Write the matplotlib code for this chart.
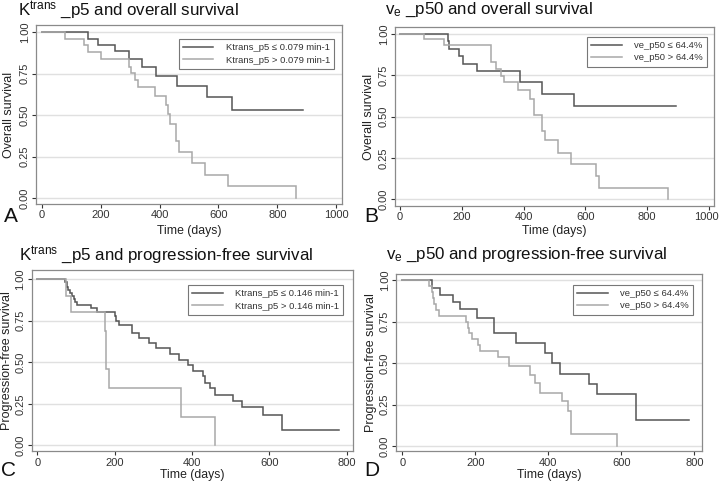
import matplotlib
matplotlib.use('Agg')
import matplotlib.pyplot as plt
import matplotlib.transforms as mtransforms

plt.rcParams['font.family'] = ['Liberation Sans', 'DejaVu Sans']
plt.rcParams['mathtext.fontset'] = 'custom'
plt.rcParams['mathtext.rm'] = 'Liberation Sans'
plt.rcParams['mathtext.it'] = 'Liberation Sans:italic'

# ---------------- data ----------------
# Panel A: Ktrans_p5 and overall survival
a_low_t = [156, 190, 247, 295, 340, 389, 460, 562, 645]
a_low_s = [0.962, 0.923, 0.885, 0.838, 0.788, 0.736, 0.675, 0.609, 0.531]
a_low_end = 889
a_high_t = [79, 142, 156, 202, 295, 302, 315, 326, 383, 423, 430, 436, 457, 466, 511, 554, 632, 864]
a_high_s = [0.962, 0.926, 0.882, 0.836, 0.792, 0.755, 0.715, 0.669, 0.615, 0.559, 0.505, 0.449, 0.345, 0.279, 0.214, 0.140, 0.070, 0.0]
a_labels = ["Ktrans_p5 \u2264 0.079 min-1", "Ktrans_p5 > 0.079 min-1"]

# Panel B: ve_p50 and overall survival
b_low_t = [156, 158, 190, 203, 248, 388, 461, 564]
b_low_s = [0.955, 0.909, 0.864, 0.818, 0.773, 0.709, 0.637, 0.566]
b_low_end = 892
b_high_t = [79, 143, 294, 311, 327, 338, 381, 421, 433, 458, 470, 512, 553, 633, 644, 866]
b_high_s = [0.967, 0.933, 0.827, 0.787, 0.747, 0.709, 0.663, 0.608, 0.508, 0.410, 0.355, 0.280, 0.215, 0.140, 0.066, 0.0]
b_labels = ["ve_p50 \u2264 64.4%", "ve_p50 > 64.4%"]

# Panel C: Ktrans_p5 and progression-free survival
c_low_t = [72, 77, 79, 85, 90, 94, 98, 103, 140, 154, 200, 204, 212, 245, 264, 290, 307, 344, 366,
           389, 403, 429, 435, 447, 461, 507, 530, 584, 634]
c_low_s = [0.982, 0.956, 0.936, 0.916, 0.902, 0.882, 0.866, 0.846, 0.826, 0.800, 0.776, 0.750, 0.725,
           0.675, 0.649, 0.615, 0.585, 0.550, 0.515, 0.485, 0.445, 0.415, 0.375, 0.345, 0.305, 0.269,
           0.230, 0.184, 0.094]
c_low_end = 780
c_high_t = [75, 87, 174, 178, 185, 372, 461]
c_high_s = [0.9, 0.8, 0.686, 0.457, 0.343, 0.171, 0.0]
c_labels = ["Ktrans_p5 \u2264 0.146 min-1", "Ktrans_p5 > 0.146 min-1"]

# Panel D: ve_p50 and progression-free survival
d_low_t = [80, 102, 139, 157, 204, 250, 311, 391, 409, 432, 512, 534, 639]
d_low_s = [0.956, 0.913, 0.869, 0.825, 0.775, 0.680, 0.624, 0.559, 0.499, 0.433, 0.372, 0.312, 0.157]
d_low_end = 785
d_high_t = [72, 80, 84, 88, 93, 100, 175, 180, 184, 190, 207, 214, 261, 291, 349, 364, 376, 437, 455, 461, 589]
d_high_s = [0.964, 0.929, 0.893, 0.857, 0.821, 0.786, 0.750, 0.714, 0.679, 0.643, 0.607, 0.571,
            0.537, 0.483, 0.427, 0.378, 0.322, 0.270, 0.210, 0.070, 0.0]
d_labels = ["ve_p50 \u2264 64.4%", "ve_p50 > 64.4%"]

titles = [r"K$^{\mathrm{trans}}$ _p5 and overall survival",
          r"v$_{\mathrm{e}}$ _p50 and overall survival",
          r"K$^{\mathrm{trans}}$ _p5 and progression-free survival",
          r"v$_{\mathrm{e}}$ _p50 and progression-free survival"]
letters = ["A", "B", "C", "D"]
ylabels = ["Overall survival", "Overall survival", "Progression-free survival", "Progression-free survival"]
xticks_os = [0, 200, 400, 600, 800, 1000]
xticks_pfs = [0, 200, 400, 600, 800]
yticks = [0.0, 0.25, 0.5, 0.75, 1.0]

# ---------------- figure ----------------
W, H = 720, 484
fig = plt.figure(figsize=(7.2, 4.84), dpi=100)

def px_axes(x0, y0, x1, y1):
    return fig.add_axes([x0 / W, 1 - y1 / H, (x1 - x0) / W, (y1 - y0) / H])

DARK = '#555555'
LIGHT = '#a8a8a8'

def step(ax, t, s, end, color, label):
    xs = [0] + list(t)
    ys = [1.0] + list(s)
    if end is not None:
        xs.append(end)
        ys.append(s[-1])
    line, = ax.plot(xs, ys, drawstyle='steps-post', color=color, lw=1.1,
                    solid_joinstyle='miter', label=label)
    return line

panels = [
    dict(box=(36, 25, 341.7, 204), xlim=(-20.4, 1019), ylim=(-0.036, 1.044),
         low=(a_low_t, a_low_s, a_low_end), high=(a_high_t, a_high_s, None), labels=a_labels,
         xt=xticks_os, leg=(0.975, 0.922), title=(18, 15), letter=(4, 222), ylc=-0.068, xlc=-0.115),
    dict(box=(395, 27.3, 714.3, 205.7), xlim=(-16, 1017), ylim=(-0.039, 1.039),
         low=(b_low_t, b_low_s, b_low_end), high=(b_high_t, b_high_s, None), labels=b_labels,
         xt=xticks_os, leg=(0.977, 0.946), title=(385, 13.5), letter=(364, 222), ylc=-0.063, xlc=-0.106),
    dict(box=(31.7, 270.3, 352.7, 451.3), xlim=(-14.5, 816), ylim=(-0.036, 1.054),
         low=(c_low_t, c_low_s, c_low_end), high=(c_high_t, c_high_s, None), labels=c_labels,
         xt=xticks_pfs, leg=(0.97, 0.919), title=(19, 260.5), letter=(1, 476), ylc=-0.058, xlc=-0.099),
    dict(box=(396, 274.3, 701.7, 451.3), xlim=(-17.3, 820), ylim=(-0.032, 1.036),
         low=(d_low_t, d_low_s, d_low_end), high=(d_high_t, d_high_s, None), labels=d_labels,
         xt=xticks_pfs, leg=(0.9715, 0.94), title=(386, 258.5), letter=(364, 476), ylc=-0.062, xlc=-0.101),
]

for i, p in enumerate(panels):
    ax = px_axes(*p['box'])
    ax.set_xlim(*p['xlim'])
    ax.set_ylim(*p['ylim'])
    for yv in yticks:
        ax.axhline(yv, color='#e0e0e0', lw=1.0, zorder=0)
    l1 = step(ax, *p['low'], DARK, p['labels'][0])
    l2 = step(ax, *p['high'], LIGHT, p['labels'][1])
    ax.set_xticks(p['xt'])
    ax.set_yticks(yticks)
    ax.set_yticklabels([f"{v:.2f}" for v in yticks], rotation=90, va='center')
    ax.tick_params(axis='both', direction='out', length=3, width=0.8, colors='#333333',
                   labelsize=8, pad=1.5)
    for sp in ax.spines.values():
        sp.set_color('#8a8a8a')
        sp.set_linewidth(0.9)
    ax.set_ylabel(ylabels[i], fontsize=9, color='#222222')
    ax.yaxis.set_label_coords(p['ylc'], 0.5)
    ax.set_xlabel("Time (days)", fontsize=8.8, color='#222222')
    ax.xaxis.set_label_coords(0.5, p['xlc'])
    if i == 1:
        # keep the last tick label inside the figure edge
        lab = ax.get_xticklabels()[-1]
        lab.set_transform(lab.get_transform() +
                          mtransforms.ScaledTranslation(-3 / 100, 0, fig.dpi_scale_trans))
    leg = ax.legend(handles=[l1, l2], loc='upper right', bbox_to_anchor=p['leg'], borderaxespad=0,
                    fontsize=6.8, frameon=True, fancybox=False, handlelength=3.2,
                    handletextpad=1.3, labelspacing=0.35, borderpad=0.45)
    leg.get_frame().set_edgecolor('#555555')
    leg.get_frame().set_linewidth(0.8)
    for txt in leg.get_texts():
        txt.set_color('#333333')
    tx, ty = p['title']
    fig.text(tx / W, 1 - ty / H, titles[i], fontsize=12.2, va='baseline', ha='left', color='#111111')
    lx, ly = p['letter']
    fig.text(lx / W, 1 - ly / H, letters[i], fontsize=15, va='baseline', ha='left', color='#111111')

fig.savefig('out.png', dpi=100, facecolor='white')
